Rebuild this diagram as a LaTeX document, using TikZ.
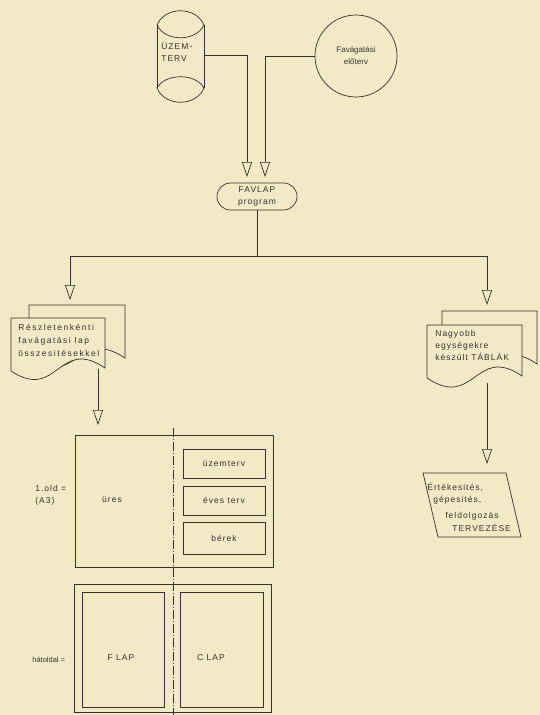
\documentclass[tikz,border=0pt]{standalone}
\usepackage{fontspec}
\setmainfont{Liberation Sans}
\newfontfamily\widefont{Liberation Sans}[LetterSpace=12]
\newfontfamily\widerfont{Liberation Sans}[LetterSpace=18]
\usetikzlibrary{arrows.meta,shapes.misc,calc}
\definecolor{paper}{RGB}{243,233,198}
\definecolor{ink}{RGB}{50,50,50}
\begin{document}
\begin{tikzpicture}[x=1pt,y=-1pt,line width=0.7pt,color=ink,
  font=\widefont\fontsize{8.5}{12}\selectfont,
  arr/.style={-{Triangle[open,length=15pt,width=10pt]}},
  lbl/.style={inner sep=0pt,align=left},
  docshape/.style={fill=paper,draw=ink},
  plain/.style={draw,inner sep=0pt}]
\fill[paper] (0,0) rectangle (540,715);
\useasboundingbox (0,0) rectangle (540,715);

% cylinder UZEM-TERV
\draw (157,25) -- (157,88) (204,25) -- (204,88);
\draw (157,25) .. controls (165,6) and (196,6) .. (204,25);
\draw (157,25) .. controls (165,42) and (196,42) .. (204,25);
\draw (157,88) .. controls (165,73) and (196,73) .. (204,88);
\draw (157,88) .. controls (165,107) and (196,107) .. (204,88);
\node[minimum width=47pt,minimum height=78pt,inner sep=0pt] (uzem) at (180.5,55) {};
\node[lbl,anchor=north west] (uzemt) at (161,42) {ÜZEM-\\TERV};

% circle
\node[draw,circle,minimum size=82pt,inner sep=0pt,align=center,
  font=\rmfamily\fontsize{8}{12}\selectfont] (fav) at (356,56) {Favágatási\\előterv};

% FAVLAP program
\node[draw,rounded rectangle,minimum width=80pt,minimum height=27pt,inner sep=0pt,align=center] (favlap) at (257,196.5) {FAVLAP\\program};

\coordinate (t1) at (247,177);
\coordinate (t2) at (265,177);
\draw[arr] (uzem.east) -| (t1);
\draw[arr] (fav.west) -| (t2);

\coordinate (split) at (257,256);
\coordinate (tL) at (70,300);
\coordinate (tR) at (487,305);
\draw (favlap.south) -- (split);
\draw[arr] (split) -| (tL);
\draw[arr] (split) -| (tR);

% left document stack
\draw[docshape] (29,305) -- (125,305) -- (125,358) .. controls (77,326) and (77,390) .. (29,358) -- cycle;
\draw[docshape] (11,318) -- (105,318) -- (105,368) .. controls (58,336) and (58,402) .. (11,371) -- cycle;
\node[lbl,anchor=north west,font=\widerfont\fontsize{8.5}{13}\selectfont] (docL) at (18,324) {Részletenkénti\\favágatási lap\\összesitésekkel};

% right document stack
\draw[docshape] (442,311) -- (537,311) -- (537,364) .. controls (490,332) and (490,396) .. (442,364) -- cycle;
\draw[docshape] (427,325) -- (522,325) -- (522,376) .. controls (475,344) and (475,410) .. (427,378) -- cycle;
\node[lbl,anchor=north west] (docR) at (435,330) {Nagyobb\\egységekre\\készült TÁBLÁK};

% arrows below docs
\coordinate (dLb) at (98,369);
\coordinate (tB1) at (98,425);
\draw[arr] (dLb) -- (tB1);
\coordinate (dRb) at (487,383);
\coordinate (tP) at (487,464);
\draw[arr] (dRb) -- (tP);

% parallelogram
\draw (423,473) -- (506,473) -- (521,537) -- (438,537) -- cycle;
\node[lbl,anchor=west] (p1) at (427,487) {Értékesités,};
\node[lbl,anchor=west] (p2) at (433,500) {gépesités,};
\node[lbl,anchor=west] (p3) at (445,516) {feldolgozás};
\node[lbl,anchor=west] (p4) at (452,528) {TERVEZÉSE};

% page 1 box
\node[plain,minimum width=198pt,minimum height=132pt] (box1) at (174,501) {};
\node[plain,minimum width=82pt,minimum height=29pt] (b1) at (224,463.5) {üzemterv};
\node[plain,minimum width=82pt,minimum height=29pt] (b2) at (224,500.5) {éves terv};
\node[plain,minimum width=82pt,minimum height=32pt] (b3) at (224,538) {bérek};
\node[lbl] (ures) at (112,500) {üres};
\node[lbl,anchor=west] (old1) at (35,495) {1.old =\\(A3)};

% back side box
\node[plain,minimum width=197pt,minimum height=128pt] (box2) at (172.5,648) {};
\node[plain,minimum width=82pt,minimum height=115pt] (flap) at (123,649.5) {};
\node[plain,minimum width=83pt,minimum height=115pt] (clap) at (221.5,649.5) {};
\node[lbl] (flapt) at (121,658) {F LAP};
\node[lbl] (clapt) at (211,658) {C LAP};
\node[lbl,anchor=west,font=\rmfamily\fontsize{7.5}{10}\selectfont] (hat) at (32,660) {hátoldal =};

% dash-dot fold line
\draw[line width=0.6pt,dash pattern=on 9pt off 2pt on 1pt off 2pt] (173,428) -- (173,715);
\end{tikzpicture}
\end{document}
